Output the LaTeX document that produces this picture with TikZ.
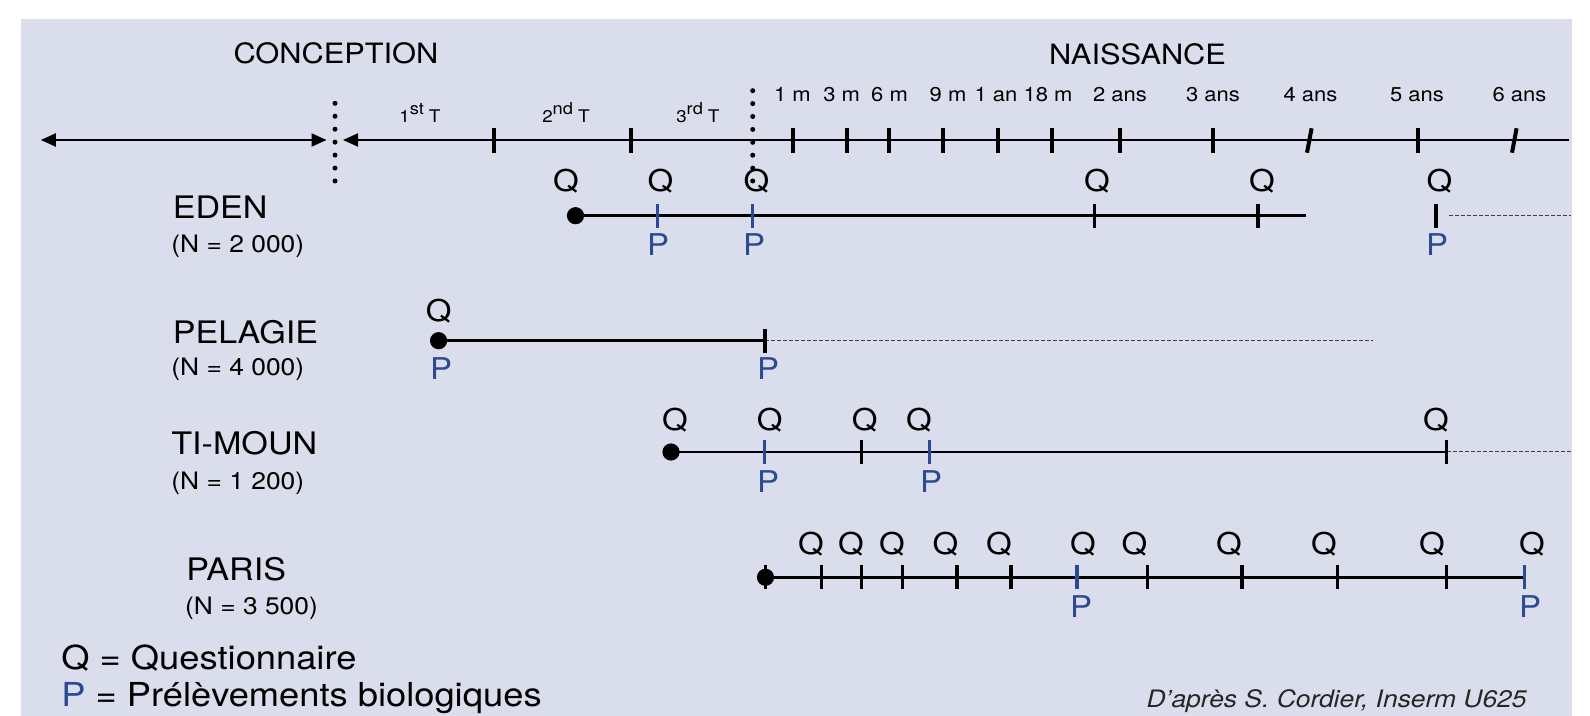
\documentclass[tikz,border=0pt]{standalone}
\usepackage{fontspec}
\setmainfont{TeX Gyre Heros}[FakeStretch=1.1]
\usetikzlibrary{arrows.meta}
\definecolor{panel}{HTML}{DADDEB}
\definecolor{pblue}{HTML}{2C4A94}
\begin{document}
\begin{tikzpicture}[x=0.5pt,y=-0.5pt,
  lbl/.style={inner sep=0pt, anchor=base},
  big/.style={lbl, font=\fontsize{14}{16}\selectfont},
  tlab/.style={lbl, font=\fontsize{10}{12}\selectfont},
  rowname/.style={inner sep=0pt, anchor=base west, font=\fontsize{15.5}{18}\selectfont},
  rown/.style={inner sep=0pt, anchor=base west, font=\fontsize{12}{14}\selectfont},
  qlab/.style={lbl, font=\fontsize{15}{17}\selectfont},
  plab/.style={qlab, text=pblue},
  leg/.style={inner sep=0pt, anchor=base west, font=\fontsize{16.5}{19}\selectfont},
  cred/.style={inner sep=0pt, anchor=base east, font=\fontsize{12}{14}\selectfont\itshape, text=black!85},
  axis/.style={line width=1pt},
  atick/.style={line width=2pt},
  rowline/.style={line width=1.4pt},
  rtick/.style={line width=1.7pt},
  btick/.style={line width=1.7pt, draw=pblue},
  dline/.style={line width=0.5pt, dash pattern=on 2pt off 1pt, draw=black!75},
  tip/.tip={Triangle[length=7.5pt,width=6.5pt]}
]
\useasboundingbox (0,0) rectangle (1590,716);
\fill[white] (0,0) rectangle (1590,716);
\fill[panel] (21,19) rectangle (1572,716);

% headings
\node[big] (conc) at (336,64) {CONCEPTION};
\node[big] (nais) at (1137.5,65) {NAISSANCE};

% trimester labels
\newcommand{\trim}[2]{{\fontsize{8.5}{10}\selectfont #1}\raisebox{4pt}{\fontsize{8.3}{9}\selectfont #2}\hspace{2.5pt}{\fontsize{8.7}{10}\selectfont T}}
\node[lbl] (t1) at (420,122.3) {\trim{1}{st}};
\node[lbl] (t2) at (566,122.3) {\trim{2}{nd}};
\node[lbl] (t3) at (698,122.3) {\trim{3}{rd}};

% age labels
\foreach \x/\t [count=\i] in {792.5/1 m, 841.7/3 m, 889.5/6 m, 948/9 m, 996/1 an, 1048/18 m, 1120/2 ans, 1213/3 ans, 1310.5/4 ans, 1417/5 ans, 1519.5/6 ans}
  \node[tlab] (age\i) at (\x,102) {\t};

% main axis
\coordinate (aL) at (40.8,140);
\coordinate (aC) at (326.5,140);
\coordinate (aD) at (343,140);
\coordinate (aR) at (1569.3,140);
\draw[axis,{tip}-{tip}] (aL) -- (aC);
\draw[axis,{tip}-] (aD) -- (aR);
\foreach \x in {494.3,630.5,793.3,847.3,888.7,943.3,997.7,1051.7,1120,1213.3,1418.3}
  \draw[atick] (\x,128.3) -- (\x,152.7);
\foreach \x in {1309.3,1514.3}
  \draw[atick] ({\x-2.3},152.7) -- ({\x+2.3},128.3);
% dotted separators
\foreach \k in {0,...,6}
  \fill (335,{103.3+12.95*\k}) circle (1.25pt);
\foreach \k in {0,...,7}
  \fill (752.7,{90.7+12.9*\k}) circle (1.25pt);

% ---------- EDEN ----------
\node[rowname] (eden) at (172.4,218.3) {EDEN};
\node[rown] (edenN) at (171,253) {(N = 2 000)};
\coordinate (eS) at (575.5,215.7);
\coordinate (eE) at (1305.7,215.7);
\coordinate (eD1) at (1448.5,215.7);
\coordinate (eD2) at (1571,215.7);
\draw[rowline] (eS) -- (eE);
\fill (eS) circle (4.3pt);
\foreach \x in {657.5,752.3} \draw[btick] (\x,203.7) -- ++(0,24);
\foreach \x in {1094.6,1258,1436} \draw[rtick] (\x,203.7) -- ++(0,24);
\draw[dline] (eD1) -- (eD2);
\foreach \x [count=\i] in {566,660.5,756.5,1097,1262,1439.5}
  \node[qlab] (eq\i) at (\x,192) {Q};
\foreach \x [count=\i] in {658,754,1437}
  \node[plab] (ep\i) at (\x,256) {P};

% ---------- PELAGIE ----------
\node[rowname] (pel) at (172.4,343.3) {PELAGIE};
\node[rown] (pelN) at (171,376) {(N = 4 000)};
\coordinate (pS) at (438.6,340.7);
\coordinate (pE) at (765,340.7);
\coordinate (pD2) at (1372.6,340.7);
\draw[rowline] (pS) -- (pE);
\draw[dline] (pE) -- (pD2);
\fill (pS) circle (4.3pt);
\draw[rtick] (765,328.7) -- ++(0,24);
\node[qlab] (pq1) at (438.6,322) {Q};
\node[plab] (pp1) at (441,380) {P};
\node[plab] (pp2) at (768,380) {P};

% ---------- TI-MOUN ----------
\node[rowname] (tim) at (171,455) {TI-MOUN};
\node[rown] (timN) at (171,489) {(N = 1 200)};
\coordinate (tS) at (671,452);
\coordinate (tE) at (1446.7,452);
\coordinate (tD2) at (1571,452);
\draw[rowline] (tS) -- (tE);
\draw[dline] (tE) -- (tD2);
\fill (tS) circle (4.3pt);
\foreach \x in {764.3,929.5} \draw[btick] (\x,440) -- ++(0,24);
\foreach \x in {861.4,1446.7} \draw[rtick] (\x,440) -- ++(0,24);
\foreach \x [count=\i] in {675,769.6,864.6,919,1436}
  \node[qlab] (tq\i) at (\x,430.5) {Q};
\foreach \x [count=\i] in {768,931}
  \node[plab] (tp\i) at (\x,493) {P};

% ---------- PARIS ----------
\node[rowname] (par) at (186,580) {PARIS};
\node[rown] (parN) at (184.7,614) {(N = 3 500)};
\coordinate (rS) at (765.5,577.3);
\coordinate (rE) at (1524.6,577.3);
\draw[rowline] (rS) -- (rE);
\fill (rS) circle (4.3pt);
\foreach \x in {765.5,821.3,861.4,902.7,956.8,1011,1147.5,1241.8,1337.7,1446.5}
  \draw[rtick] (\x,565.3) -- ++(0,24);
\foreach \x in {1076.8,1524.6} \draw[btick] (\x,565.3) -- ++(0,24);
\foreach \x [count=\i] in {811,851,892,945.5,999,1083,1134.5,1229,1324,1432,1532}
  \node[qlab] (rq\i) at (\x,554) {Q};
\foreach \x [count=\i] in {1081,1530}
  \node[plab] (rp\i) at (\x,617) {P};

% legend and credit
\node[leg] (legq) at (61,669) {Q = Questionnaire};
\node[leg] (legp) at (61,706.5) {\textcolor{pblue}{P} = Prélèvements biologiques};
\node[cred] (credit) at (1527,707) {D’après S. Cordier, Inserm U625};
\end{tikzpicture}
\end{document}
